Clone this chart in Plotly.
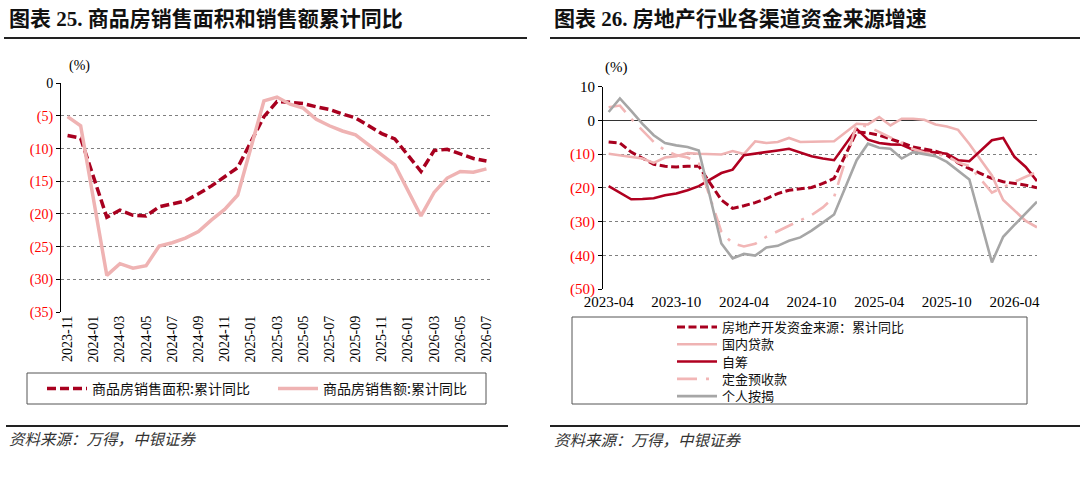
import plotly.graph_objects as go

W, H = 1080, 480

# ---------------- 图表25 data ----------------
left_months = ["2023-11", "2023-12", "2024-01", "2024-02", "2024-03", "2024-04", "2024-05",
               "2024-06", "2024-07", "2024-08", "2024-09", "2024-10", "2024-11", "2024-12",
               "2025-01", "2025-02", "2025-03", "2025-04", "2025-05", "2025-06", "2025-07",
               "2025-08", "2025-09", "2025-10", "2025-11", "2025-12", "2026-01", "2026-02",
               "2026-03", "2026-04", "2026-05", "2026-06", "2026-07"]
left_ticklabels = ["2023-11", "2024-01", "2024-03", "2024-05", "2024-07", "2024-09", "2024-11",
                   "2025-01", "2025-03", "2025-05", "2025-07", "2025-09", "2025-11", "2026-01",
                   "2026-03", "2026-05", "2026-07"]
area_yoy = [-8.0, -8.4, None, -20.5, -19.4, -20.2, -20.3, -18.9, -18.5, -18.0, -16.9, -15.7,
            -14.3, -12.9, None, -5.1, -2.8, -2.9, -3.1, -3.6, -4.0, -4.7, -5.3, -6.5, -7.7,
            -8.5, None, -13.5, -10.3, -10.1, -10.8, -11.5, -11.9]
amount_yoy = [-5.1, -6.5, None, -29.4, -27.6, -28.3, -27.9, -24.9, -24.4, -23.7, -22.7, -20.9,
              -19.3, -17.1, None, -2.7, -2.1, -3.2, -3.8, -5.5, -6.5, -7.3, -7.9, -9.4, -11.0,
              -12.5, None, -20.3, -16.7, -14.5, -13.5, -13.6, -13.1]
left_yticks = [0, -5, -10, -15, -20, -25, -30, -35]

# ---------------- 图表26 data ----------------
right_months = ["2023-04", "2023-05", "2023-06", "2023-07", "2023-08", "2023-09", "2023-10",
                "2023-11", "2023-12", "2024-01", "2024-02", "2024-03", "2024-04", "2024-05",
                "2024-06", "2024-07", "2024-08", "2024-09", "2024-10", "2024-11", "2024-12",
                "2025-01", "2025-02", "2025-03", "2025-04", "2025-05", "2025-06", "2025-07",
                "2025-08", "2025-09", "2025-10", "2025-11", "2025-12", "2026-01", "2026-02",
                "2026-03", "2026-04", "2026-05", "2026-06"]
right_ticklabels = ["2023-04", "2023-10", "2024-04", "2024-10", "2025-04", "2025-10", "2026-04"]
fund_total = [-6.4, -6.7, -9.4, -11.3, -13.0, -13.6, -13.8, -13.6, -13.6, None, -23.6, -26.1,
              -25.3, -24.4, -23.2, -21.7, -20.7, -20.3, -19.9, -18.7, -17.2, None, -3.4, -3.7,
              -4.4, -5.4, -6.6, -7.9, -8.6, -9.1, -10.3, -12.6, -14.3, None, -17.2, -18.2,
              -18.7, -19.2, -20.0]
domestic_loan = [-9.9, -10.3, -10.8, -11.3, -12.6, -11.0, -10.6, -9.7, -9.9, None, -10.1, -9.1,
                 -10.0, -6.2, -6.7, -6.4, -5.2, -6.4, -6.4, -6.2, -6.2, None, -1.0, -1.2,
                 1.0, -1.5, 0.5, 0.5, 0.2, -1.2, -1.8, -2.8, -7.0, None, -16.3, -23.6,
                 -26.6, -29.8, -31.7]
self_raised = [-19.5, -21.5, -23.4, -23.3, -23.1, -22.2, -21.7, -20.7, -19.5, None, -15.6, -14.6,
               -10.3, -9.9, -9.4, -8.9, -8.4, -9.4, -10.6, -11.3, -11.8, None, -2.5, -5.7,
               -6.7, -7.1, -7.2, -8.7, -9.1, -9.4, -9.9, -11.8, -12.1, None, -5.9, -5.2,
               -10.8, -13.8, -18.0]
deposits = [3.9, 4.4, 0.5, -3.0, -6.4, -8.9, -10.3, -11.0, -12.8, None, -33.0, -36.5,
            -37.4, -36.6, -34.5, -32.8, -31.3, -29.6, -28.1, -25.8, -22.7, None, -1.2, -1.8,
            -3.4, -4.9, -6.7, -8.5, -9.5, -10.0, -10.5, -12.5, -13.5, None, -21.4, -19.7,
            -18.2, -16.7, -15.3]
mortgage = [2.5, 6.5, 2.8, -1.0, -4.4, -6.7, -7.4, -7.9, -8.9, None, -36.5, -40.9,
            -39.6, -40.1, -37.7, -37.2, -35.7, -34.7, -32.7, -30.3, -27.9, None, -11.8, -6.9,
            -8.1, -8.4, -11.3, -9.4, -10.0, -10.6, -12.3, -14.8, -17.5, None, -42.1, -34.5,
            -31.0, -27.4, -24.1]
right_yticks = [10, 0, -10, -20, -30, -40, -50]

# ---------------- styling ----------------
SERIF = "Liberation Serif, Noto Sans CJK SC"
CJK = "Noto Sans CJK SC"
DARK_RED = "#a8001f"
RED = "#b00020"
PINK = "#efb3b3"
GRAY = "#a6a6a6"


def fx(p):
    return p / W


def fy(p):
    return 1 - p / H


def tick_text(v):
    if v < 0:
        return "<span style='color:#ff0000'>(%d)</span>" % (-v)
    return "%d" % v


fig = go.Figure()

# left chart traces
fig.add_trace(go.Scatter(x=left_months, y=area_yoy, name="商品房销售面积:累计同比", mode="lines",
                         connectgaps=True, line=dict(color=DARK_RED, width=3.5, dash="9px,4px"),
                         xaxis="x", yaxis="y", legend="legend"))
fig.add_trace(go.Scatter(x=left_months, y=amount_yoy, name="商品房销售额:累计同比", mode="lines",
                         connectgaps=True, line=dict(color=PINK, width=3.5),
                         xaxis="x", yaxis="y", legend="legend"))

# right chart traces (one legend row each, so rows can sit as tight as in the reference)
right_series = [
    ("房地产开发资金来源：累计同比", fund_total, dict(color=DARK_RED, width=3, dash="8px,3.5px")),
    ("国内贷款", domestic_loan, dict(color=PINK, width=2.6)),
    ("自筹", self_raised, dict(color=RED, width=2.6)),
    ("定金预收款", deposits, dict(color="#f2b6b6", width=2.6, dash="20px,9px,3px,9px")),
    ("个人按揭", mortgage, dict(color=GRAY, width=2.6)),
]
legend_rows_px = [327, 344.3, 361.6, 378.9, 396.2]
for k, (name, vals, ln) in enumerate(right_series):
    fig.add_trace(go.Scatter(x=right_months, y=vals, name=name, mode="lines", connectgaps=True,
                             line=ln, xaxis="x2", yaxis="y2", legend="legend%d" % (k + 2)))

# plot areas (pixels)
L_X0, L_X1, L_Y0, L_Y1 = 61, 493, 83.3, 312
R_X0, R_X1, R_Y0, R_Y1 = 603, 1037, 86.7, 289
r_dom = [fy(R_Y1), fy(R_Y0)]
zero_pos = r_dom[0] + (r_dom[1] - r_dom[0]) * 50 / 60

axis_common = dict(showgrid=False, zeroline=False)

layout = dict(
    width=W, height=H,
    margin=dict(l=0, r=0, t=0, b=0, autoexpand=False),
    paper_bgcolor="white", plot_bgcolor="white",
    font=dict(family=SERIF, size=14, color="#000"),
    xaxis=dict(domain=[fx(L_X0), fx(L_X1)], anchor="y", type="category",
               categoryorder="array", categoryarray=left_months,
               range=[-0.5, len(left_months) - 0.5],
               tickmode="array", tickvals=left_ticklabels, tickangle=-90,
               ticks="", showline=False, tickfont=dict(family=SERIF, size=14),
               automargin=False, **axis_common),
    yaxis=dict(domain=[fy(L_Y1), fy(L_Y0)], anchor="x", range=[-35, 0],
               tickmode="array", tickvals=left_yticks,
               ticktext=[tick_text(v) for v in left_yticks],
               showgrid=True, gridcolor="#7f7f7f", griddash="dot", gridwidth=1,
               zeroline=False, showline=True, linecolor="#000", linewidth=1,
               ticks="outside", ticklen=4, tickcolor="#000", automargin=False,
               tickfont=dict(family=SERIF, size=14)),
    xaxis3=dict(overlaying="x", anchor="y", side="top", type="linear",
                range=[-0.5, len(left_months) - 0.5],
                tickmode="array", tickvals=[i - 0.5 for i in range(0, len(left_months) - 1, 2)],
                ticks="inside", ticklen=5, tickcolor="#333", showticklabels=False,
                showline=True, linecolor="#333", linewidth=1, automargin=False, **axis_common),
    xaxis2=dict(domain=[fx(R_X0), fx(R_X1)], anchor="y2", type="category",
                categoryorder="array", categoryarray=right_months,
                range=[-0.5, len(right_months) - 1],
                tickmode="array", tickvals=right_ticklabels, tickangle=0,
                ticks="", showline=False, tickfont=dict(family=SERIF, size=15),
                ticklabelstandoff=2, automargin=False, **axis_common),
    yaxis2=dict(domain=r_dom, anchor="x2", range=[-50, 10],
                tickmode="array", tickvals=right_yticks,
                ticktext=[tick_text(v) for v in right_yticks],
                showgrid=True, gridcolor="#7f7f7f", griddash="dot", gridwidth=1,
                zeroline=True, zerolinecolor="#333", zerolinewidth=1,
                showline=True, linecolor="#000", linewidth=1,
                ticks="outside", ticklen=4, tickcolor="#000", automargin=False,
                tickfont=dict(family=SERIF, size=15)),
    xaxis4=dict(overlaying="x2", anchor="free", position=zero_pos, side="bottom", type="linear",
                range=[-0.5, len(right_months) - 1],
                tickmode="array", tickvals=[i - 0.5 for i in range(0, len(right_months), 6)],
                ticks="outside", ticklen=5, tickcolor="#333", showticklabels=False,
                showline=False, automargin=False, **axis_common),
    legend=dict(orientation="h", x=fx(42), y=fy(389), xanchor="left", yanchor="middle",
                bgcolor="rgba(0,0,0,0)", borderwidth=0, itemwidth=40,
                entrywidth=176, entrywidthmode="pixels",
                font=dict(family=CJK, size=14, color="#111")),
    showlegend=True,
)
for k, row in enumerate(legend_rows_px):
    layout["legend%d" % (k + 2)] = dict(
        orientation="v", x=fx(672), y=fy(row), xanchor="left", yanchor="middle",
        bgcolor="rgba(0,0,0,0)", borderwidth=0, itemwidth=40,
        font=dict(family=CJK, size=13, color="#111"))
fig.update_layout(**layout)

shapes = [
    # title underlines
    dict(type="line", xref="paper", yref="paper", x0=fx(4), x1=fx(527), y0=fy(38), y1=fy(38),
         line=dict(color="#222", width=2)),
    dict(type="line", xref="paper", yref="paper", x0=fx(550), x1=fx(1080), y0=fy(38), y1=fy(38),
         line=dict(color="#222", width=2)),
    # footer lines
    dict(type="line", xref="paper", yref="paper", x0=fx(6), x1=fx(508), y0=fy(426), y1=fy(426),
         line=dict(color="#222", width=2)),
    dict(type="line", xref="paper", yref="paper", x0=fx(550), x1=fx(1080), y0=fy(426), y1=fy(426),
         line=dict(color="#222", width=2)),
    # legend boxes
    dict(type="rect", xref="paper", yref="paper", x0=fx(27), x1=fx(486), y0=fy(404), y1=fy(373),
         line=dict(color="#555", width=1)),
    dict(type="rect", xref="paper", yref="paper", x0=fx(572), x1=fx(1027), y0=fy(404), y1=fy(317),
         line=dict(color="#555", width=1)),
]
fig.update_layout(shapes=shapes)

annotations = [
    dict(text="<b>图表 25. 商品房销售面积和销售额累计同比</b>", x=fx(7), y=fy(19), xanchor="left",
         yanchor="middle", font=dict(family=SERIF, size=21, color="#111")),
    dict(text="<b>图表 26. 房地产行业各渠道资金来源增速</b>", x=fx(552), y=fy(19), xanchor="left",
         yanchor="middle", font=dict(family=SERIF, size=21, color="#111")),
    dict(text="(%)", x=fx(79), y=fy(66), xanchor="center", yanchor="middle",
         font=dict(family=SERIF, size=14, color="#000")),
    dict(text="(%)", x=fx(616), y=fy(67), xanchor="center", yanchor="middle",
         font=dict(family=SERIF, size=15, color="#000")),
    dict(text="<i>资料来源：万得，中银证券</i>", x=fx(7), y=fy(438), xanchor="left", yanchor="middle",
         font=dict(family=CJK, size=15.5, color="#333")),
    dict(text="<i>资料来源：万得，中银证券</i>", x=fx(552), y=fy(439), xanchor="left", yanchor="middle",
         font=dict(family=CJK, size=15.5, color="#333")),
]
for a in annotations:
    a.update(xref="paper", yref="paper", showarrow=False)
fig.update_layout(annotations=annotations)

# the page's default 8px body margin would shift the whole figure; remove it
fig.write_html("out.html", config={"displayModeBar": False},
               post_script="document.body.style.margin='0';")
